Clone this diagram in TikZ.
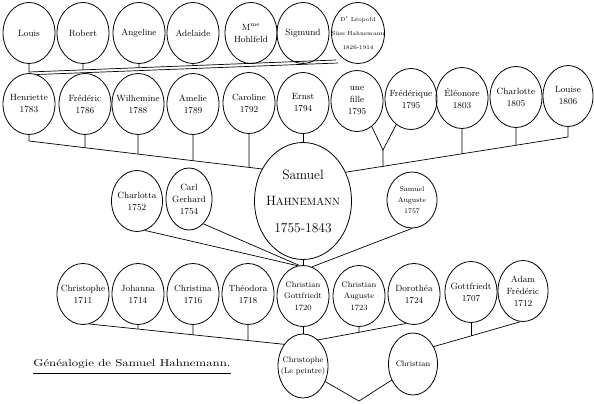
\documentclass[tikz,border=0pt]{standalone}
\usepackage{graphicx}
\usetikzlibrary{shapes.geometric,calc}

% short vertical line from a node down to a slanted line (a)--(b)
\newcommand\drop[3]{\draw[link] let \p1=(#2), \p2=(#3), \p3=#1 in #1 -- ($(#2)!{scalar((\x3-\x1)/(\x2-\x1))}!(#3)$);}

\begin{document}
\begin{tikzpicture}[x=1pt, y=-1pt,
    person/.style={ellipse, draw, line width=0.8pt, minimum width=52, minimum height=61, inner sep=0},
    txt/.style={align=center, inner sep=0, font=\fontsize{9}{12}\selectfont},
    pers/.style={person, label={[txt]center:#1}},
    perssmall/.style={person, label={[txt, font=\fontsize{8}{11.5}\selectfont]center:#1}},
    link/.style={line width=0.7pt}]
    \useasboundingbox (0,0) rectangle (594,404);

    % petits-enfants
    \node[pers={Louis}] (louis) at (29,33) {};
    \node[pers={Robert}] (robert) at (83,33) {};
    \node[pers={Angeline}] (angeline) at (139,33) {};
    \node[pers={Adelaide}] (adelaide) at (193,33) {};
    \node[pers={M\textsuperscript{me}\\Hohlfeld}] (hohlfeld) at (251,33) {};
    \node[pers={Sigmund}] (sigmund) at (303,33) {};
    \node[person, minimum width=53, label={[txt, font=\fontsize{5.8}{14}\selectfont]center:D\textsuperscript{r} Léopold\\Süss Hahnemann\\1826-1914}] (leopold) at (358,33) {};

    % enfants
    \node[pers={Henriette\\1783}] (henriette) at (29,104) {};
    \node[pers={Frédéric\\1786}] (frederic) at (85,104) {};
    \node[pers={Wilhemine\\1788}] (wilhemine) at (138,104) {};
    \node[pers={Amelie\\1789}] (amelie) at (193,104) {};
    \node[pers={Caroline\\1792}] (caroline) at (249,103) {};
    \node[pers={Ernst\\1794}] (ernst) at (303,103) {};
    \node[pers={une\\fille\\1795}] (unefille) at (357,101) {};
    \node[pers={Frédérique\\1795}] (frederique) at (411,99) {};
    \node[pers={Éléonore\\1803}] (eleonore) at (462,98) {};
    \node[pers={Charlotte\\1805}] (charlotte) at (516,97) {};
    \node[pers={Louise\\1806}, minimum width=50] (louise) at (568,96) {};

    % Samuel et ses frere et soeurs
    \node[pers={Charlotta\\1752}, minimum width=51] (charlotta) at (137,201) {};
    \node[pers={Carl\\Gerhard\\1754}, minimum width=46, minimum height=62] (carl) at (189,199) {};
    \node[person, minimum width=97, minimum height=117, label={[align=center, inner sep=0, font=\fontsize{13.5}{26.5}\selectfont]center:Samuel\\H{\fontsize{10.5}{12}\selectfont AHNEMANN}\\1755-1843}] (samuel) at (303,201) {};
    \node[person, minimum width=50, minimum height=56, label={[txt, font=\fontsize{7}{11}\selectfont]center:Samuel\\Auguste\\1757}] (sauguste) at (412,200) {};

    % parents et oncles
    \node[pers={Christophe\\1711}] (christophe) at (83,294) {};
    \node[pers={Johanna\\1714}] (johanna) at (138,294) {};
    \node[pers={Christina\\1716}] (christina) at (193,294) {};
    \node[pers={Théodora\\1718}] (theodora) at (248,294) {};
    \node[perssmall={Christian\\Gottfriedt\\1720}] (cg) at (303,296) {};
    \node[perssmall={Christian\\Auguste\\1723}] (cauguste) at (359,296) {};
    \node[pers={Dorothéa\\1724}] (dorothea) at (414,294) {};
    \node[pers={Gottfriedt\\1707}] (gottfriedt) at (471,292) {};
    \node[pers={Adam\\Frédéric\\1712}, minimum width=50] (adam) at (523,291) {};

    \node[perssmall={Christophe\\(Le peintre)}, minimum width=50, minimum height=64] (cp) at (303,366) {};
    \node[perssmall={Christian}, minimum width=49, minimum height=62] (christian) at (413,364) {};

    % legende
    \node[inner sep=0, font=\fontsize{10}{12}\selectfont] (titre) at (132,364) {\scalebox{1.28}[1]{Généalogie de Samuel Hahnemann.}};
    \draw[line width=1.2pt] ([yshift=-5pt]titre.south west) -- ([yshift=-5pt]titre.south east);

    % liens
    \coordinate (lj) at (29,72); \coordinate (lc) at (336,60); \coordinate (lc2) at (338,63);
    \draw[link] (louis) -- (lj) -- (lc); \draw[link] (henriette.75) -- (lc2);
    \drop{(robert.south)}{lj}{lc} \drop{(angeline.south)}{lj}{lc} \drop{(adelaide.south)}{lj}{lc}
    \drop{(hohlfeld.south)}{lj}{lc} \drop{(sigmund.south)}{lj}{lc}

    \coordinate (hj) at (29,141); \coordinate (rj) at (568,137); \coordinate (fj) at (383,150);
    \draw[link] (henriette) -- (hj) -- (samuel.142); \draw[link] (samuel.34) -- (rj) -- (louise);
    \drop{(frederic.south)}{hj}{samuel.142} \drop{(wilhemine.south)}{hj}{samuel.142}
    \drop{(amelie.south)}{hj}{samuel.142} \drop{(caroline.south)}{hj}{samuel.142}
    \draw[link] (ernst) -- (samuel);
    \draw[link] (unefille.-60) -- (fj) -- (frederique.-120); \drop{(fj)}{samuel.34}{rj}
    \drop{(eleonore.south)}{samuel.34}{rj} \drop{(charlotte.south)}{samuel.34}{rj}

    \draw[link] (samuel) -- (cg); \draw[link] (charlotta.-75) -- (cg.100);
    \draw[link] (carl.-60) -- (cg.97); \draw[link] (sauguste.south) -- (cg.73);

    \draw[link] (christophe.-78) -- (cp.131);
    \drop{(johanna.south)}{christophe.-78}{cp.131} \drop{(christina.south)}{christophe.-78}{cp.131}
    \drop{(theodora.south)}{christophe.-78}{cp.131}
    \draw[link] (cg) -- (cp); \draw[link] (cp.60) -- (dorothea.-105);
    \drop{(cauguste.south)}{cp.60}{dorothea.-105}
    \draw[link] (christian.40) -- (adam.-95); \drop{(gottfriedt.south)}{christian.40}{adam.-95}
    \coordinate (v) at (359,401);
    \draw[link] (cp.-35) -- (v) -- (christian.-143);
\end{tikzpicture}
\end{document}
